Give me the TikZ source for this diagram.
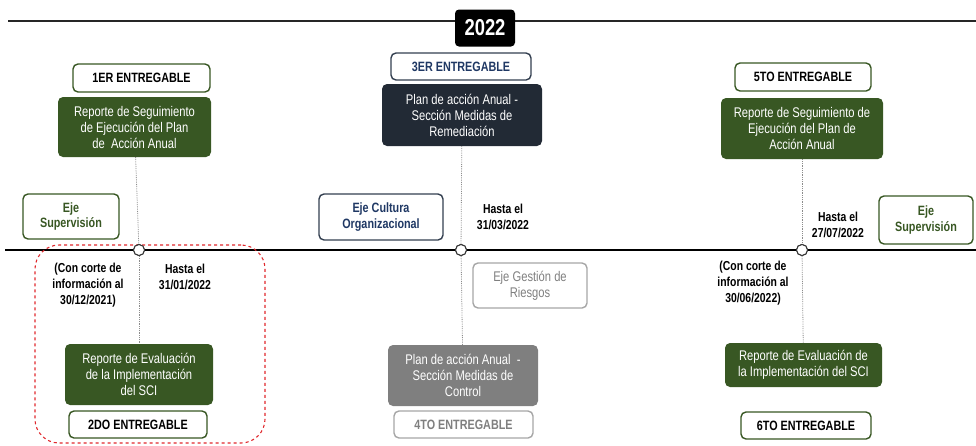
\documentclass[tikz,border=0pt]{standalone}
\usepackage{fontspec}
\setmainfont{Liberation Sans}[FakeStretch=0.8]
\definecolor{dgreen}{HTML}{385723}
\definecolor{dnavy}{HTML}{222A35}
\definecolor{navytxt}{HTML}{1F3864}
\definecolor{navyline}{HTML}{333F50}
\definecolor{gbox}{HTML}{7F7F7F}
\definecolor{gline}{HTML}{A6A6A6}
\definecolor{redd}{HTML}{E0282C}
\begin{document}
\begin{tikzpicture}[x=1pt,y=-1pt,
  base/.style={rounded corners=5pt, align=center, inner sep=0pt, font=\fontsize{14}{16}\selectfont},
  label/.style={base, draw=dgreen, line width=1.4pt, fill=white, text=black, font=\bfseries\fontsize{13.5}{15}\selectfont},
  greenbox/.style={base, fill=dgreen, text=white},
  ejebox/.style={base, draw=dgreen, line width=1.4pt, text=dgreen, font=\bfseries\fontsize{13.5}{15.5}\selectfont},
  datetxt/.style={align=center, inner sep=0pt, font=\bfseries\fontsize{13}{16}\selectfont},
  dot/.style={circle, draw=black!80, fill=white, line width=1pt, minimum size=11pt, inner sep=0pt},
  vline/.style={draw=black!45, densely dotted, line width=0.8pt}
]
\useasboundingbox (0,0) rectangle (976,445);

% top line and year
\coordinate (tl) at (8,21);
\coordinate (tr) at (976,21);
\draw[line width=2pt, black!85] (tl) -- (tr);
\node[fill=black, rounded corners=4pt, minimum width=60pt, minimum height=37pt, inner sep=0pt,
  text=white, font=\bfseries\fontsize{23}{23}\selectfont] (year) at (485,28) {2022};

% timeline
\coordinate (ml) at (5,250);
\coordinate (mr) at (976,250);
\draw[line width=2.6pt, black] (ml) -- (mr);

% red dashed group
\node[draw=redd, dashed, line width=1.1pt, rounded corners=24pt, minimum width=230pt, minimum height=198pt] (grp) at (150,344) {};

% ---- column 1
\node[label, minimum width=137pt, minimum height=28pt] (e1) at (141.5,78) {1ER ENTREGABLE};
\node[greenbox, minimum width=153pt, minimum height=60pt] (g1) at (134.5,127) {Reporte de Seguimiento\\de Ejecución del Plan\\de\ \ Acción Anual};
\node[ejebox, minimum width=96pt, minimum height=45pt] (s1) at (71,216.5) {Eje\\Supervisión};
\node[dot] (c1) at (139,250) {};
\node[datetxt] (d1) at (88,285) {(Con corte de\\información al\\30/12/2021)};
\node[datetxt] (h1) at (185,277) {Hasta el\\31/01/2022};
\node[greenbox, minimum width=148pt, minimum height=61pt] (g2) at (139,374.5) {Reporte de Evaluación\\de la Implementación\\del SCI};
\node[label, minimum width=138pt, minimum height=27pt] (e2) at (138,424.5) {2DO ENTREGABLE};

% ---- column 2
\node[label, draw=navyline, text=navytxt, minimum width=140pt, minimum height=27pt] (e3) at (461,66.5) {3ER ENTREGABLE};
\node[greenbox, fill=dnavy, minimum width=160pt, minimum height=62pt] (g3) at (462,115) {Plan de acción Anual -\\Sección Medidas de\\Remediación};
\node[ejebox, draw=navyline, text=navytxt, minimum width=124pt, minimum height=46pt] (s3) at (381,217) {Eje Cultura\\Organizacional};
\node[dot] (c3) at (461,250) {};
\node[datetxt] (h3) at (503,217) {Hasta el\\31/03/2022};
\node[ejebox, draw=gline, text=gbox, font=\fontsize{14}{16}\selectfont, minimum width=114pt, minimum height=45pt] (s4) at (530,285.5) {Eje Gestión de\\Riesgos};
\node[greenbox, fill=gbox, minimum width=150pt, minimum height=61pt] (g4) at (463,375.5) {Plan de acción Anual\ \ -\\Sección Medidas de\\Control};
\node[label, draw=gline, text=gbox, minimum width=139pt, minimum height=27pt] (e4) at (463.5,424.5) {4TO ENTREGABLE};

% ---- column 3
\node[label, minimum width=136pt, minimum height=28pt] (e5) at (803,77) {5TO ENTREGABLE};
\node[greenbox, minimum width=162pt, minimum height=61pt] (g5) at (802,128.5) {Reporte de Seguimiento de\\Ejecución del Plan de\\Acción Anual};
\node[ejebox, minimum width=94pt, minimum height=48pt] (s5) at (926,220) {Eje\\Supervisión};
\node[dot] (c5) at (802,250) {};
\node[datetxt] (h5) at (838,225) {Hasta el\\27/07/2022};
\node[datetxt] (d5) at (753,283) {(Con corte de\\información al\\30/06/2022)};
\node[greenbox, minimum width=157pt, minimum height=44pt] (g6) at (803.5,365) {Reporte de Evaluación de\\la Implementación del SCI};
\node[label, minimum width=130pt, minimum height=27pt] (e6) at (806,425.5) {6TO ENTREGABLE};

% connectors
\draw[vline] (g1) -- (c1);
\draw[vline] (c1) -- (g2);
\draw[vline] (g3) -- (c3);
\draw[vline] (c3) -- (g4);
\draw[vline] (g5) -- (c5);
\draw[vline] (c5) -- (g6);
\node[dot] at (c1) {};
\node[dot] at (c3) {};
\node[dot] at (c5) {};
\end{tikzpicture}
\end{document}
